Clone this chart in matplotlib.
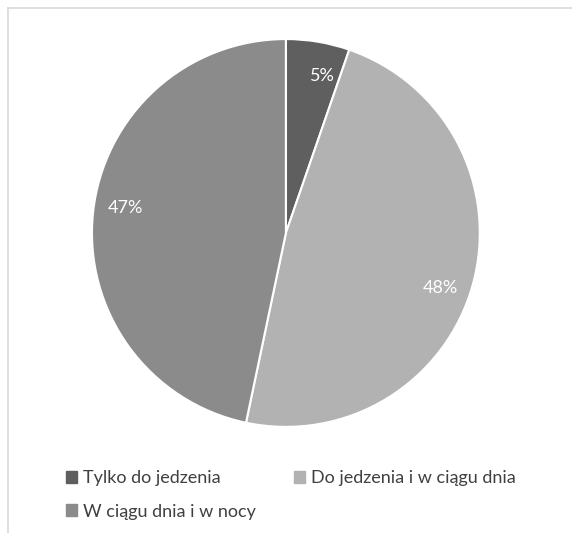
import numpy as np
import matplotlib.pyplot as plt
from matplotlib.patches import Rectangle
from matplotlib.lines import Line2D

labels = ['Tylko do jedzenia', 'Do jedzenia i w ciągu dnia', 'W ciągu dnia i w nocy']
values = [5.3, 48.0, 46.7]
colors = ['#5f5f5f', '#b2b2b2', '#8b8b8b']

plt.rcParams['font.family'] = ['Lato', 'DejaVu Sans']

fig = plt.figure(figsize=(5.72, 5.33), dpi=100)

# ramka wykresu (tylko lewa i gorna krawedz widoczna)
fig.add_artist(Line2D([8/572, 1], [1 - 8/533, 1 - 8/533], color='#d9d9d9', lw=1.2))
fig.add_artist(Line2D([8/572, 8/572], [0, 1 - 8/533], color='#d9d9d9', lw=1.2))

ax = fig.add_axes([0.1608, 0.1989, 0.678, 0.728])
wedges, texts = ax.pie(values, colors=colors, startangle=90, counterclock=False,
                       wedgeprops=dict(edgecolor='white', linewidth=1.5))

# etykiety procentowe - lekko przesuniete zgodnie z ruchem wskazowek (jak w Excelu)
total = sum(values)
for w, v in zip(wedges, values):
    ang = np.deg2rad((w.theta1 + w.theta2) / 2 - 3.5)
    ax.text(0.84 * np.cos(ang), 0.84 * np.sin(ang) - 0.01, '%1.0f%%' % (100 * v / total),
            ha='center', va='center', color='white', fontsize=13)

ax.set_xlim(-1, 1)
ax.set_ylim(-1, 1)
ax.set_aspect('equal')

# legenda w dwoch kolumnach, kolejnosc wierszami
handles = [Rectangle((0, 0), 1, 1, color=c) for c in colors]
order = [0, 2, 1]
fig.legend([handles[i] for i in order], [labels[i] for i in order], ncol=2,
           loc='upper left', bbox_to_anchor=(0.087, 0.148),
           frameon=False, fontsize=13, handlelength=0.6, handleheight=0.6,
           handletextpad=0.35, columnspacing=2.1, labelspacing=0.95, labelcolor='#404040')

fig.savefig('out.png', dpi=100)
